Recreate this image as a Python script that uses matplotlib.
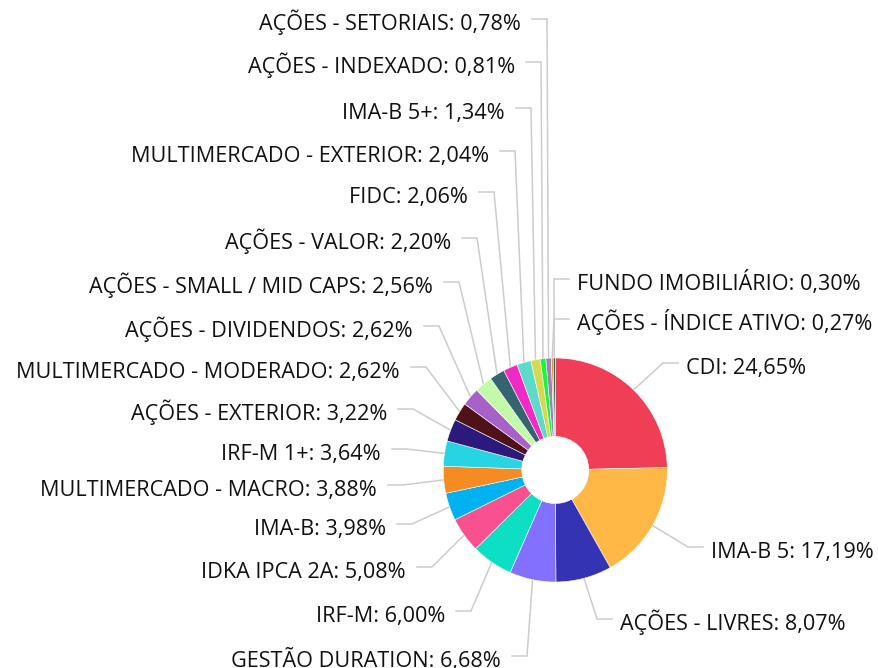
import matplotlib
matplotlib.use("Agg")
import matplotlib.pyplot as plt
import numpy as np

categories = [
    "CDI", "IMA-B 5", "AÇÕES - LIVRES", "GESTÃO DURATION", "IRF-M",
    "IDKA IPCA 2A", "IMA-B", "MULTIMERCADO - MACRO", "IRF-M 1+",
    "AÇÕES - EXTERIOR", "MULTIMERCADO - MODERADO", "AÇÕES - DIVIDENDOS",
    "AÇÕES - SMALL / MID CAPS", "AÇÕES - VALOR", "FIDC",
    "MULTIMERCADO - EXTERIOR", "IMA-B 5+", "AÇÕES - INDEXADO",
    "AÇÕES - SETORIAIS", "AÇÕES - ÍNDICE ATIVO", "FUNDO IMOBILIÁRIO",
]
values = [24.65, 17.19, 8.07, 6.68, 6.00, 5.08, 3.98, 3.88, 3.64, 3.22,
          2.62, 2.62, 2.56, 2.20, 2.06, 2.04, 1.34, 0.81, 0.78, 0.27, 0.30]
colors = ["#EF3E55", "#FFB846", "#3333B3", "#8470FF", "#0CDFC4",
          "#F9508F", "#00B2F2", "#F68B24", "#27D4E3", "#2B1A7C",
          "#4F1219", "#A861C9", "#C4F9A9", "#346470", "#F02AC4",
          "#5CDBCB", "#D6D84F", "#19F53D", "#9A83B5", "#F08A2A", "#17705F"]

# label layout (pixel coords from top-left): side, line y, bend x
label_side = ["R", "R", "R", "L", "L", "L", "L", "L", "L", "L", "L", "L",
              "L", "L", "L", "L", "L", "L", "L", "R", "R"]
label_y = [363, 547, 619, 656, 611, 567, 524, 485, 449, 409, 367, 326,
           282, 238, 192, 151, 108, 62, 19, 319, 279]
bend_x = [663, 688, 597, 527, 471, 432, 412, 403, 407, 413, 426, 439,
          459, 477, 494, 515, 531, 541, 547, 554, 554]

W, H = 879, 668
fig = plt.figure(figsize=(W / 100, H / 100), dpi=100)
ax = fig.add_axes([0, 0, 1, 1])

cx, cy_px, R, r_in = 555.3, 470.0, 112.0, 33.5
center = (cx, H - cy_px)

wedges, _ = ax.pie(values, colors=colors, startangle=90, counterclock=False,
                   radius=R, center=center,
                   wedgeprops=dict(width=R - r_in, edgecolor="white",
                                   linewidth=0.4))
for w in wedges:
    w.set_zorder(3)

line_col = "#cccccc"
hlen = 15
for i, w in enumerate(wedges):
    ang = np.deg2rad((w.theta1 + w.theta2) / 2.0)
    ex = center[0] + R * np.cos(ang)
    ey = center[1] + R * np.sin(ang)
    by = H - label_y[i]
    bx = bend_x[i]
    sgn = 1 if label_side[i] == "R" else -1
    hx = bx + sgn * hlen
    ax.plot([ex, bx, hx], [ey, by, by], color=line_col, lw=1.1,
            zorder=1, solid_joinstyle="miter")
    txt = f"{categories[i]}: {values[i]:.2f}".replace(".", ",") + "%"
    ty = by - 11.2
    if sgn > 0:
        ax.text(hx + 8, ty, txt, ha="left", va="baseline",
                fontsize=15.6, family="Open Sans", color="#111111")
    else:
        ax.text(hx - 11, ty, txt, ha="right", va="baseline",
                fontsize=15.6, family="Open Sans", color="#111111")

ax.set_xlim(0, W)
ax.set_ylim(0, H)
ax.set_aspect("equal")
ax.axis("off")
fig.savefig("out.png", dpi=100, facecolor="white")
